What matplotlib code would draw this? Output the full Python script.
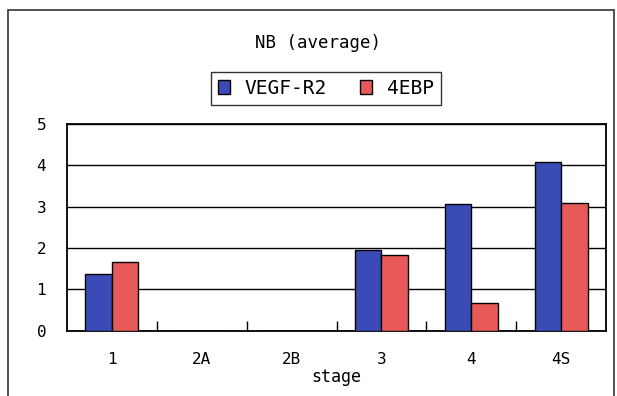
import matplotlib
matplotlib.use("Agg")
import matplotlib.pyplot as plt
from matplotlib.patches import Rectangle
import numpy as np

stages = ["1", "2A", "2B", "3", "4", "4S"]
vegf_r2 = [1.38, 0, 0, 1.95, 3.07, 4.09]
ebp4 = [1.67, 0, 0, 1.84, 0.67, 3.09]
series_names = ["VEGF-R2", "4EBP"]
yticks = [0, 1, 2, 3, 4, 5]

plt.rcParams['font.family'] = ['DejaVu Sans Mono', 'DejaVu Sans']

W, H = 617, 396
fig = plt.figure(figsize=(W/100, H/100), dpi=100)
fig.patch.set_facecolor("white")
ax = fig.add_axes([67/W, 1-330.7/H, (606-67)/W, (330.7-124)/H])

x = np.arange(len(stages))
w = 0.295
blue = "#3A4BB5"
red = "#E85A5A"
b1 = ax.bar(x - w/2, vegf_r2, w, color=blue, edgecolor="black", linewidth=1, zorder=3, label=series_names[0])
b2 = ax.bar(x + w/2, ebp4, w, color=red, edgecolor="black", linewidth=1, zorder=3, label=series_names[1])

ax.set_xlim(-0.5, len(stages) - 0.5)
ax.set_ylim(0, 5)
ax.set_yticks(yticks)
ax.set_yticklabels([str(t) for t in yticks], fontsize=11.5)
ax.tick_params(axis="y", length=0, pad=15)
ax.set_xticks(x)
ax.set_xticklabels(stages, fontsize=11.5)
ax.tick_params(axis="x", which="major", length=0, pad=15)
ax.set_xticks(np.arange(0.5, len(stages) - 0.5, 1), minor=True)
ax.tick_params(axis="x", which="minor", length=7, direction="in", width=1, color="black")
ax.yaxis.grid(True, color="black", linewidth=1)
ax.set_axisbelow(True)
for s in ax.spines.values():
    s.set_linewidth(1.3)
    s.set_color("black")
ax.set_xlabel("stage", fontsize=12, labelpad=1)

fig.text(317.5/W, 1-43/H, "NB (average)", ha="center", va="center", fontsize=12.5)

lx0, lx1, ly0, ly1 = 210.7, 440.7, 72.3, 105
leg = fig.legend(handles=[b1, b2], labels=series_names, loc="center",
                 bbox_to_anchor=(lx0/W, 1-ly1/H, (lx1-lx0)/W, (ly1-ly0)/H),
                 mode="expand", ncol=2, fontsize=14,
                 frameon=True, fancybox=False, edgecolor="black",
                 handlelength=0.65, handleheight=0.72, handletextpad=0.75,
                 columnspacing=1.0, borderpad=0.35, borderaxespad=0)
leg.get_frame().set_linewidth(1)

fig.add_artist(Rectangle((8/W, -0.05), 606/W, 1.05 - 10/H,
                         transform=fig.transFigure, fill=False,
                         edgecolor="#333333", linewidth=1.2))

fig.savefig("out.png", dpi=100)
